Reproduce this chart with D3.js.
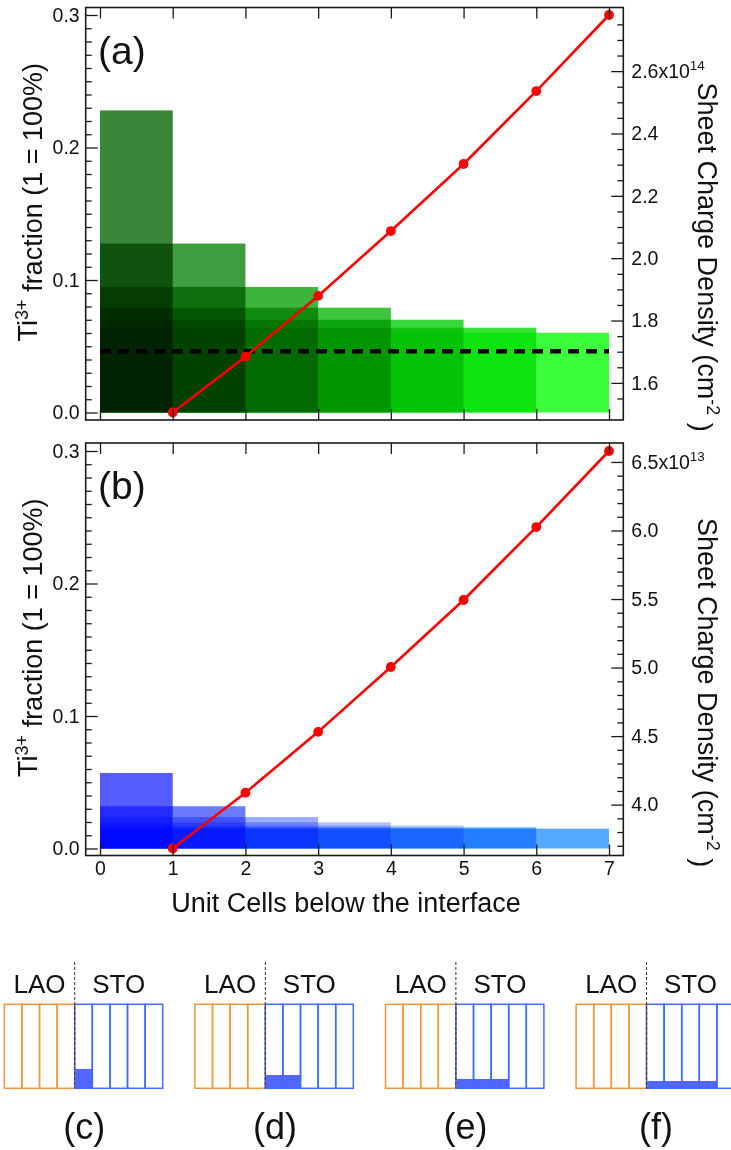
<!DOCTYPE html>
<html>
<head>
<meta charset="utf-8">
<script src="https://cdn.jsdelivr.net/npm/d3@7"></script>
<style>
  html, body { margin: 0; padding: 0; background: #fff; }
  svg { display: block; font-family: "Liberation Sans", Arial, Helvetica, sans-serif; }
</style>
</head>
<body>
<svg id="chart" width="731" height="1150"></svg>
<script>
// ---- data -------------------------------------------------------------
// unit cells below the LAO/STO interface
const unitCells = [0, 1, 2, 3, 4, 5, 6, 7];
// depth (in unit cells) over which the electrons are spread, one layer each
const spreadCells = [1, 2, 3, 4, 5, 6, 7];

// Ti3+ fraction in each cell for a given spread depth
const ti3FractionA = [0.228, 0.1275, 0.0947, 0.0791, 0.0700, 0.0640, 0.0602];
const ti3FractionB = [0.057, 0.0319, 0.0237, 0.0198, 0.0175, 0.0160, 0.0150];

// sheet charge density vs. unit cells (x10^14 cm^-2 in (a), x10^13 cm^-2 in (b))
const chargeCells = [1, 2, 3, 4, 5, 6, 7];
const sheetChargeA = [1.505, 1.684, 1.879, 2.087, 2.302, 2.536, 2.780];
const sheetChargeB = [3.680, 4.087, 4.531, 5.004, 5.493, 6.025, 6.580];

// reference Ti3+ fraction (dashed line in (a))
const referenceFraction = [0.0463];

// tick values
const fractionTicks = [0.0, 0.1, 0.2, 0.3];
const chargeTicksA = [1.6, 1.8, 2.0, 2.2, 2.4, 2.6];
const chargeTicksB = [4.0, 4.5, 5.0, 5.5, 6.0, 6.5];

// schematic panels: number of STO cells holding the charge, filled fraction
const sketchLabels = ["(c)", "(d)", "(e)", "(f)"];
const sketchFilledCells = [1, 2, 3, 4];
const sketchFillFraction = [0.23, 0.158, 0.111, 0.087];
const laoCells = 4;
const stoCells = 5;

// ---- styles -----------------------------------------------------------
// layer colours, combined with multiply so that overlaps darken
const greenLayers = ["#3a873a", "#3e9d3e", "#3db53d", "#3cc43c", "#3bd83b", "#3ae53a", "#3aff3a"];
const blueLayers  = ["#555cff", "#6b7aff", "#9aaaff", "#b3c2ff", "#c2d0ff", "#66bbff", "#55aaff"];
const axisColor = "#1a1a1a";
const textColor = "#111";

// ---- layout -----------------------------------------------------------
const svg = d3.select("#chart");
svg.append("rect").attr("width", 731).attr("height", 1150).attr("fill", "#fff");

const frameLeft = 85.7, frameRight = 623.3;
const x = d3.scaleLinear().domain([0, 7]).range([100, 609]);

const panels = [
  { tag: "(a)", top: 7.5, bottom: 420, yBottom: 412.5, yTop: 15,
    bars: ti3FractionA, colors: greenLayers, charge: sheetChargeA,
    chargeTicks: chargeTicksA, chargeMinor: 0.05, exponent: "14",
    reference: referenceFraction, xLabels: false },
  { tag: "(b)", top: 443, bottom: 855.5, yBottom: 848.5, yTop: 451,
    bars: ti3FractionB, colors: blueLayers, charge: sheetChargeB,
    chargeTicks: chargeTicksB, chargeMinor: 0.1, exponent: "13",
    reference: [], xLabels: true }
];

function styleAxis(g) {
  g.select(".domain").remove();
  g.attr("font-family", null).attr("font-size", null);
  g.selectAll(".tick line").attr("stroke", axisColor).attr("stroke-width", 1.3);
  g.selectAll(".tick text").attr("fill", textColor).style("font-size", "19.5px");
}

panels.forEach(p => {
  const g = svg.append("g");
  const y = d3.scaleLinear().domain([0, 0.3]).range([p.yBottom, p.yTop]);
  const yR = d3.scaleLinear().domain(d3.extent(p.charge)).range([p.yBottom, p.yTop]);

  // overlapping layers: each one spans the cells the charge is spread over
  const layers = g.append("g").style("isolation", "isolate");
  layers.selectAll("rect")
    .data(p.bars.map((v, i) => ({ v, n: spreadCells[i], c: p.colors[i] })).reverse())
    .join("rect")
    .attr("x", x(unitCells[0]))
    .attr("width", d => x(d.n) - x(unitCells[0]))
    .attr("y", d => y(d.v))
    .attr("height", d => y(0) - y(d.v))
    .attr("fill", d => d.c)
    .style("mix-blend-mode", "multiply");

  // reference level
  g.selectAll("line.ref").data(p.reference).join("line")
    .attr("class", "ref")
    .attr("x1", x(0)).attr("x2", x(7))
    .attr("y1", d => y(d)).attr("y2", d => y(d))
    .attr("stroke", "#000").attr("stroke-width", 4.5)
    .attr("stroke-dasharray", "11,7");

  // sheet charge density
  const line = d3.line().x((d, i) => x(chargeCells[i])).y(d => yR(d));
  g.append("path").datum(p.charge)
    .attr("d", line).attr("fill", "none")
    .attr("stroke", "#ff0000").attr("stroke-width", 2.6);
  g.selectAll("circle").data(p.charge).join("circle")
    .attr("cx", (d, i) => x(chargeCells[i])).attr("cy", d => yR(d))
    .attr("r", 4.9).attr("fill", "#ff0000");

  // frame
  g.append("rect")
    .attr("x", frameLeft).attr("y", p.top)
    .attr("width", frameRight - frameLeft).attr("height", p.bottom - p.top)
    .attr("fill", "none").attr("stroke", axisColor).attr("stroke-width", 1.6);

  // left axis: Ti3+ fraction
  const minorFrac = d3.range(0, 0.3001, 0.01).filter(v => Math.abs(v * 10 - Math.round(v * 10)) > 1e-6);
  g.append("g").attr("transform", `translate(${frameLeft},0)`)
    .call(d3.axisLeft(y).tickValues(minorFrac).tickSize(-6).tickFormat(""))
    .call(styleAxis);
  g.append("g").attr("transform", `translate(${frameLeft},0)`)
    .call(d3.axisLeft(y).tickValues(fractionTicks).tickSize(-12).tickPadding(6).tickFormat(d3.format(".1f")))
    .call(styleAxis);

  // right axis: sheet charge density
  const [c0, c1] = yR.domain();
  const minorCharge = d3.range(Math.ceil(c0 / p.chargeMinor - 1e-6), Math.floor(c1 / p.chargeMinor + 1e-6) + 1)
    .map(k => k * p.chargeMinor)
    .filter(v => !p.chargeTicks.some(t => Math.abs(t - v) < 1e-6));
  g.append("g").attr("transform", `translate(${frameRight},0)`)
    .call(d3.axisRight(yR).tickValues(minorCharge).tickSize(-6).tickFormat(""))
    .call(styleAxis);
  const rightAxis = g.append("g").attr("transform", `translate(${frameRight},0)`)
    .call(d3.axisRight(yR).tickValues(p.chargeTicks).tickSize(-12).tickPadding(8).tickFormat(d3.format(".1f")))
    .call(styleAxis);
  const topTick = d3.max(p.chargeTicks);
  rightAxis.selectAll(".tick text").filter(d => d === topTick)
    .each(function () {
      const t = d3.select(this);
      t.append("tspan").text("x10");
      t.append("tspan").attr("dy", "-0.6em").style("font-size", "13.5px").text(p.exponent);
    });

  // x axes (ticks inside on top and bottom)
  g.append("g").attr("transform", `translate(0,${p.top})`)
    .call(d3.axisTop(x).tickValues(unitCells).tickSize(-11).tickFormat(""))
    .call(styleAxis);
  g.append("g").attr("transform", `translate(0,${p.bottom})`)
    .call(d3.axisBottom(x).tickValues(unitCells).tickSize(-11).tickPadding(6)
      .tickFormat(p.xLabels ? d3.format("d") : ""))
    .call(styleAxis);

  // panel tag
  g.append("text").attr("x", 98).attr("y", p.top + 56)
    .attr("fill", textColor).style("font-size", "39px").text(p.tag);

  // left title
  const lt = g.append("text")
    .attr("transform", `translate(37,${p.top + 55.5}) rotate(-90)`)
    .attr("text-anchor", "end").attr("fill", textColor).style("font-size", "27px");
  lt.append("tspan").text("Ti");
  lt.append("tspan").attr("dy", "-0.5em").style("font-size", "18px").text("3+");
  lt.append("tspan").attr("dy", "0.5em").text(" fraction (1 = 100%)");

  // right title
  const rt = g.append("text")
    .attr("transform", `translate(697.5,${p.top + 75}) rotate(90)`)
    .attr("fill", textColor).style("font-size", "27px");
  rt.append("tspan").text("Sheet Charge Density (cm");
  rt.append("tspan").attr("dy", "-0.5em").style("font-size", "18px").text("-2");
  rt.append("tspan").attr("dy", "0.5em").text(" )");
});

// x title
svg.append("text").attr("x", 346).attr("y", 912).attr("text-anchor", "middle")
  .attr("fill", textColor).style("font-size", "27px").text("Unit Cells below the interface");

// ---- schematic panels -------------------------------------------------
const cellW = 17.6, boxTop = 1004.3, boxH = 84;
const sketch = svg.append("g");
sketchLabels.forEach((label, i) => {
  const x0 = 4.3 + i * 190.6;
  const xi = x0 + laoCells * cellW;
  const s = sketch.append("g");

  // charge filling the first STO cells
  s.selectAll("rect.fill").data(d3.range(sketchFilledCells[i])).join("rect")
    .attr("class", "fill")
    .attr("x", k => xi + k * cellW).attr("width", cellW)
    .attr("y", boxTop + boxH * (1 - sketchFillFraction[i]))
    .attr("height", boxH * sketchFillFraction[i])
    .attr("fill", "rgba(40,62,255,0.8)");

  s.selectAll("rect.lao").data(d3.range(laoCells)).join("rect")
    .attr("class", "lao")
    .attr("x", k => x0 + k * cellW).attr("y", boxTop)
    .attr("width", cellW).attr("height", boxH)
    .attr("fill", "none").attr("stroke", "#f5963a").attr("stroke-width", 1.5);
  s.selectAll("rect.sto").data(d3.range(stoCells)).join("rect")
    .attr("class", "sto")
    .attr("x", k => xi + k * cellW).attr("y", boxTop)
    .attr("width", cellW).attr("height", boxH)
    .attr("fill", "none").attr("stroke", "#3f6cff").attr("stroke-width", 1.5);

  // interface
  s.append("line").attr("x1", xi).attr("x2", xi).attr("y1", 962).attr("y2", boxTop + boxH)
    .attr("stroke", "#333").attr("stroke-width", 1).attr("stroke-dasharray", "3,2");

  s.append("text").attr("x", x0 + laoCells * cellW / 2).attr("y", 993)
    .attr("text-anchor", "middle").attr("fill", textColor).style("font-size", "26px").text("LAO");
  s.append("text").attr("x", xi + stoCells * cellW / 2).attr("y", 993)
    .attr("text-anchor", "middle").attr("fill", textColor).style("font-size", "26px").text("STO");
  s.append("text").attr("x", x0 + 80).attr("y", 1139)
    .attr("text-anchor", "middle").attr("fill", textColor).style("font-size", "36px").text(label);
});
</script>
</body>
</html>
